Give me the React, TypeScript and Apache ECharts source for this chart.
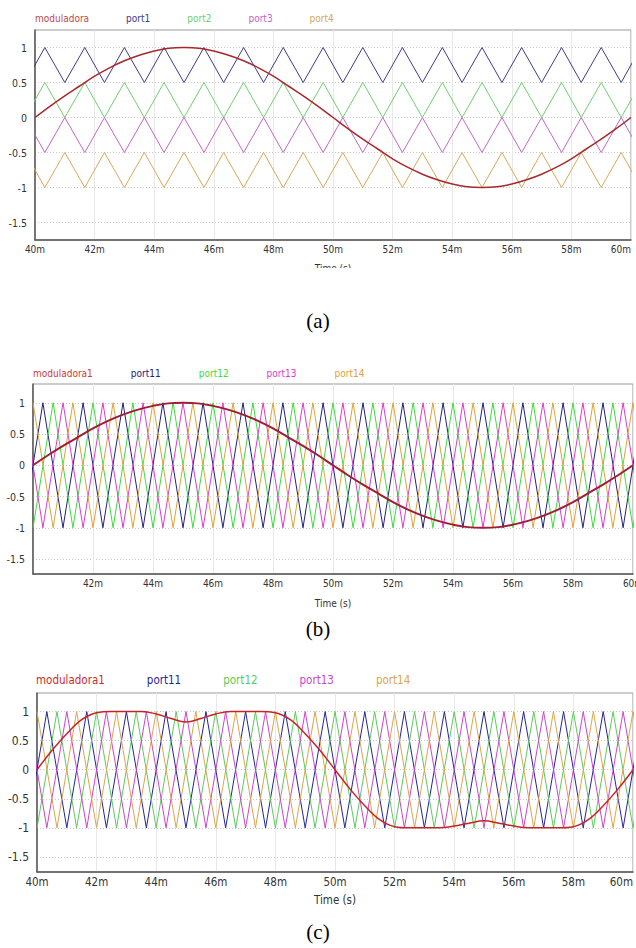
import React, { useEffect, useRef } from 'react';
import * as echarts from 'echarts';

// ---------- data ----------
const yTickValues = [-1.5, -1, -0.5, 0, 0.5, 1];

// modulating signal sample times (ms)
const modTimes = [40, 40.5, 41, 41.5, 42, 42.5, 43, 43.5, 44, 44.5, 45, 45.5, 46, 46.5, 47, 47.5, 48, 48.5, 49, 49.5, 50,
  50.5, 51, 51.5, 52, 52.5, 53, 53.5, 54, 54.5, 55, 55.5, 56, 56.5, 57, 57.5, 58, 58.5, 59, 59.5, 60];
// (a), (b): sinusoidal modulating signal
const sineValues = [0, 0.16, 0.31, 0.45, 0.59, 0.71, 0.81, 0.89, 0.95, 0.99, 1, 0.99, 0.95, 0.89, 0.81, 0.71, 0.59, 0.45, 0.31, 0.16, 0,
  -0.16, -0.31, -0.45, -0.59, -0.71, -0.81, -0.89, -0.95, -0.99, -1, -0.99, -0.95, -0.89, -0.81, -0.71, -0.59, -0.45, -0.31, -0.16, 0];
// (c): flat-top modulating signal
const flatTopValues = [0, 0.33, 0.62, 0.86, 0.98, 1, 1, 1, 0.96, 0.88, 0.82, 0.88, 0.96, 1, 1, 1, 0.98, 0.86, 0.62, 0.33, 0,
  -0.33, -0.62, -0.86, -0.98, -1, -1, -1, -0.97, -0.92, -0.88, -0.92, -0.97, -1, -1, -1, -0.98, -0.86, -0.62, -0.33, 0];

// carrier vertex times (ms)
const p11Peaks = [40.33, 41.67, 43.0, 44.33, 45.67, 47.0, 48.33, 49.67, 51.0, 52.33, 53.67, 55.0, 56.33, 57.67, 59.0, 60.33];
const p11Valleys = [39.67, 41.0, 42.33, 43.67, 45.0, 46.33, 47.67, 49.0, 50.33, 51.67, 53.0, 54.33, 55.67, 57.0, 58.33, 59.67];
const p12Peaks = [40.67, 42.0, 43.33, 44.67, 46.0, 47.33, 48.67, 50.0, 51.33, 52.67, 54.0, 55.33, 56.67, 58.0, 59.33, 60.67];
const p12Valleys = [40.0, 41.33, 42.67, 44.0, 45.33, 46.67, 48.0, 49.33, 50.67, 52.0, 53.33, 54.67, 56.0, 57.33, 58.67, 60.0];

// panel (a) level-shifted carriers: [high, low]
const port1Levels = [1, 0.5];
const port2Levels = [0.5, 0];
const port3Levels = [0, -0.5];
const port4Levels = [-0.5, -1];
// panel (b),(c) full-range carriers
const fullLevels = [1, -1];

const namesA = ['moduladora', 'port1', 'port2', 'port3', 'port4'];
const namesB = ['moduladora1', 'port11', 'port12', 'port13', 'port14'];

// ---------- helpers ----------
function tri(highTimes: number[], lowTimes: number[], levels: number[]) {
  const pts: number[][] = [];
  highTimes.forEach((t) => pts.push([t, levels[0]]));
  lowTimes.forEach((t) => pts.push([t, levels[1]]));
  pts.sort((a, b) => a[0] - b[0]);
  return pts;
}
function zipXY(xs: number[], ys: number[]) {
  return xs.map((x, i) => [x, ys[i]]);
}

const FONT = "'DejaVu Sans Condensed', 'DejaVu Sans', sans-serif";

export default function App() {
  const ref = useRef<HTMLDivElement>(null);
  useEffect(() => {
    if (!ref.current) return;
    const chart = echarts.init(ref.current, undefined, { renderer: 'svg' });

    const colorsA = { mod: '#a8282c', leg: '#c04a4a', p1: '#3c3c8c', p2: '#6fcf6f', p3: '#c366c8', p4: '#d8a85a' };
    const colorsB = { mod: '#a01e34', leg: '#cc3a3a', p1: '#22227a', p2: '#3ddc3d', p3: '#dd3ccc', p4: '#e0a238' };
    const colorsC = { mod: '#c82424', leg: '#cc2a2a', p1: '#24249a', p2: '#5acc5a', p3: '#cc44cc', p4: '#e0a448' };

    const grids = [
      { left: 35, top: 30, width: 596, height: 210 },
      { left: 33, top: 384, width: 600, height: 190 },
      { left: 37, top: 693, width: 596, height: 179 },
    ];
    const yRanges = [[-1.75, 1.25], [-1.74, 1.3], [-1.76, 1.32]];
    const fontSizes = [10, 10, 11.5];

    const xAxes = grids.map((g, i) => ({
      type: 'value',
      gridIndex: i,
      min: 40,
      max: 60,
      interval: 2,
      name: 'Time (s)',
      nameLocation: 'middle',
      nameGap: i === 0 ? 23 : i === 1 ? 24 : 22,
      nameTextStyle: { fontFamily: FONT, fontSize: fontSizes[i], color: '#333' },
      axisLine: { show: true, onZero: false, lineStyle: { color: '#555', width: 1.5 } },
      axisTick: { show: false },
      axisLabel: {
        fontFamily: FONT,
        fontSize: fontSizes[i],
        color: '#333',
        margin: 4,
        showMinLabel: i !== 1,
        alignMaxLabel: i === 1 ? 'center' : 'right',
        formatter: (v: number) => `${v}m`,
      },
      splitLine: { show: true, lineStyle: { color: '#e8e8e8', width: 1, type: 'solid' } },
    }));

    const yAxes = grids.map((g, i) => ({
      type: 'value',
      gridIndex: i,
      min: yRanges[i][0],
      max: yRanges[i][1],
      axisLine: { show: true, onZero: false, lineStyle: { color: '#555', width: 1.5 } },
      axisTick: { show: false, customValues: yTickValues },
      axisLabel: {
        fontFamily: FONT,
        fontSize: i === 2 ? 12 : 10.5,
        color: '#333',
        margin: 8,
        customValues: yTickValues,
        formatter: (v: number) => `${v}`,
      },
      splitLine: { show: true, lineStyle: { color: '#c8c8c8', width: 1, type: [1, 2] } },
    }));

    const carrierLine = (name: string, data: number[][], color: string, gi: number) => ({
      type: 'line',
      name,
      xAxisIndex: gi,
      yAxisIndex: gi,
      data,
      showSymbol: false,
      symbol: 'none',
      color,
      lineStyle: { color, width: 1 },
      z: 2,
      silent: true,
    });
    const modLine = (name: string, values: number[], color: string, gi: number, width: number) => ({
      type: 'line',
      name,
      xAxisIndex: gi,
      yAxisIndex: gi,
      data: zipXY(modTimes, values),
      smooth: 0.4,
      showSymbol: false,
      symbol: 'none',
      color,
      lineStyle: { color, width },
      z: 4,
      silent: true,
    });

    const series: any[] = [
      // (a)
      carrierLine('port1', tri(p11Peaks, p11Valleys, port1Levels), colorsA.p1, 0),
      carrierLine('port2', tri(p11Peaks, p11Valleys, port2Levels), colorsA.p2, 0),
      carrierLine('port3', tri(p11Valleys, p11Peaks, port3Levels), colorsA.p3, 0),
      carrierLine('port4', tri(p11Valleys, p11Peaks, port4Levels), colorsA.p4, 0),
      modLine('moduladora', sineValues, colorsA.mod, 0, 1.5),
      // (b)
      carrierLine('port11', tri(p11Peaks, p11Valleys, fullLevels), colorsB.p1, 1),
      carrierLine('port12', tri(p12Peaks, p12Valleys, fullLevels), colorsB.p2, 1),
      carrierLine('port13', tri(p11Valleys, p11Peaks, fullLevels), colorsB.p3, 1),
      carrierLine('port14', tri(p12Valleys, p12Peaks, fullLevels), colorsB.p4, 1),
      modLine('moduladora1', sineValues, colorsB.mod, 1, 2),
      // (c)
      carrierLine('port11', tri(p11Peaks, p11Valleys, fullLevels), colorsC.p1, 2),
      carrierLine('port12', tri(p12Peaks, p12Valleys, fullLevels), colorsC.p2, 2),
      carrierLine('port13', tri(p11Valleys, p11Peaks, fullLevels), colorsC.p3, 2),
      carrierLine('port14', tri(p12Valleys, p12Peaks, fullLevels), colorsC.p4, 2),
      modLine('moduladora1', flatTopValues, colorsC.mod, 2, 1.5),
    ];

    const legendColorsA = [colorsA.leg, colorsA.p1, colorsA.p2, colorsA.p3, colorsA.p4];
    const legendColorsB = [colorsB.leg, colorsB.p1, colorsB.p2, colorsB.p3, colorsB.p4];
    const legendColorsC = [colorsC.leg, colorsC.p1, colorsC.p2, colorsC.p3, colorsC.p4];

    const mkLegend = (names: string[], cols: string[], left: number, top: number, gap: number, fs: number) => ({
      left,
      top,
      orient: 'horizontal',
      itemWidth: 0,
      itemHeight: 0,
      itemGap: gap,
      icon: 'rect',
      itemStyle: { opacity: 0 },
      lineStyle: { opacity: 0 },
      selectedMode: false,
      data: names.map((n, i) => ({ name: n, textStyle: { color: cols[i], fontFamily: FONT, fontSize: fs } })),
    });

    const titleStyle = { fontFamily: "'Liberation Serif', 'Times New Roman', serif", fontSize: 21, fontWeight: 'normal', color: '#000' };

    chart.setOption({
      animation: false,
      backgroundColor: '#fff',
      title: [
        { text: '(a)', left: 'center', top: 305, textStyle: titleStyle },
        { text: '(b)', left: 'center', top: 613, textStyle: titleStyle },
        { text: '(c)', left: 'center', top: 916, textStyle: titleStyle },
      ],
      legend: [
        mkLegend(namesA, legendColorsA, 25, 8, 32, 10),
        mkLegend(namesB, legendColorsB, 23, 363, 33, 10),
        mkLegend(namesB, legendColorsC, 26, 669, 37, 11.5),
      ],
      grid: grids.map((g) => ({
        ...g,
        show: true,
        borderColor: '#9a9a9a',
        borderWidth: 1,
        backgroundColor: 'transparent',
        containLabel: false,
        outerBoundsMode: 'none',
      })),
      xAxis: xAxes,
      yAxis: yAxes,
      series,
      graphic: [
        { type: 'rect', z: 100, shape: { x: 290, y: 268, width: 80, height: 24 }, style: { fill: '#fff' } },
      ],
    } as any);
    return () => chart.dispose();
  }, []);
  return (
    <div
      ref={ref}
      style={{ position: 'absolute', left: 0, top: 0, width: 636, height: 948, background: '#fff' }}
    />
  );
}
